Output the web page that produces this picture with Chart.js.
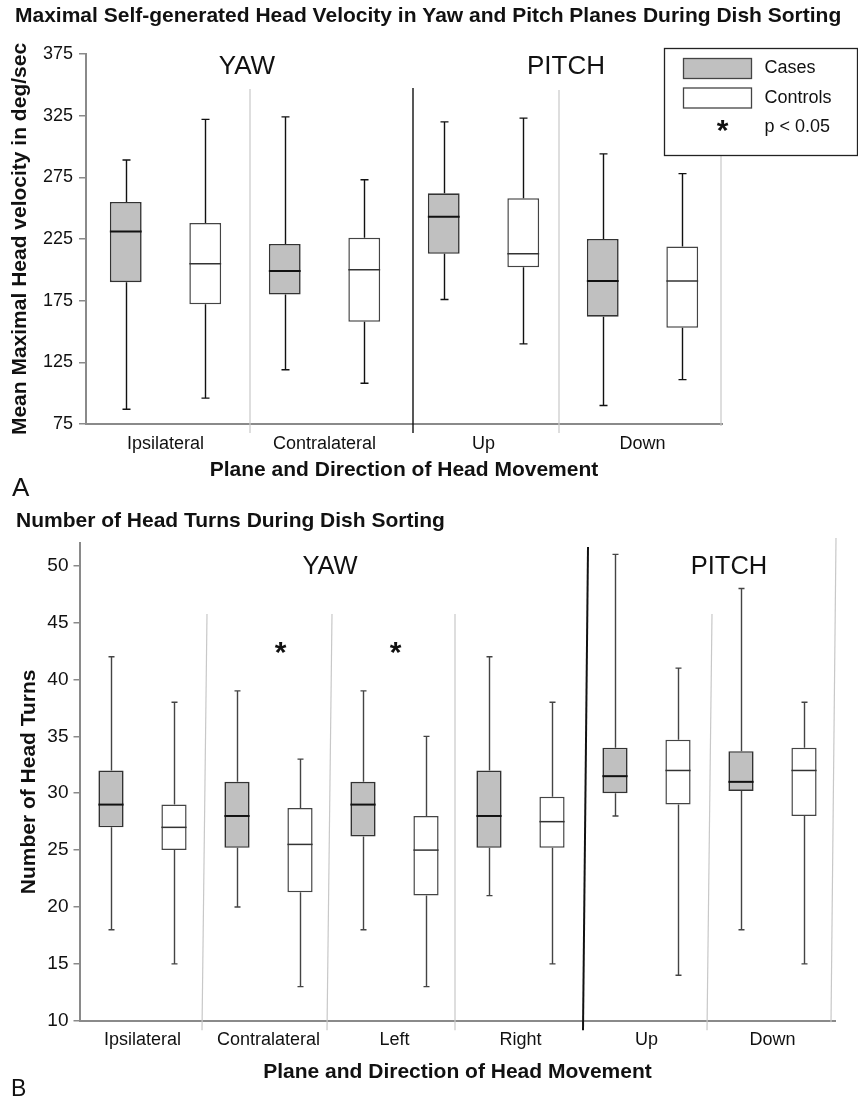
<!DOCTYPE html>
<html>
<head>
<meta charset="utf-8">
<script src="https://cdn.jsdelivr.net/npm/chart.js@4.4.1/dist/chart.umd.min.js"></script>
<style>
  body { margin: 0; background: #fff; }
  #wrap { position: relative; width: 858px; height: 1101px; }
  canvas { position: absolute; left: 0; }
</style>
</head>
<body>
<div id="wrap">
  <canvas id="chartA" width="858" height="500" style="top:0"></canvas>
  <canvas id="chartB" width="858" height="601" style="top:500px"></canvas>
</div>
<script>
// ---- panel A: max head velocity (deg/sec) ----
var aCategories = ['Ipsilateral', 'Contralateral', 'Up', 'Down'];
var aCasesMin = [87, 119, 176, 90];
var aCasesQ1  = [190, 180, 213, 162];
var aCasesMed = [231, 199, 243, 191];
var aCasesQ3  = [255, 221, 262, 225];
var aCasesMax = [289, 324, 320, 294];
var aCtrlMin = [96, 108, 140, 111];
var aCtrlQ1  = [172, 158, 202, 153];
var aCtrlMed = [205, 200, 213, 191];
var aCtrlQ3  = [238, 226, 258, 219];
var aCtrlMax = [322, 273, 323, 278];
var aTicks = [75, 375, 50];   // min, max, step

// ---- panel B: number of head turns ----
var bCategories = ['Ipsilateral', 'Contralateral', 'Left', 'Right', 'Up', 'Down'];
var bCasesMin = [18, 20, 18, 21, 28, 18];
var bCasesQ1  = [27, 25.2, 26.2, 25.2, 30, 30.2];
var bCasesMed = [29, 28, 29, 28, 31.5, 31];
var bCasesQ3  = [32, 31, 31, 32, 34, 33.7];
var bCasesMax = [42, 39, 39, 42, 51, 48];
var bCtrlMin = [15, 13, 13, 15, 14, 15];
var bCtrlQ1  = [25, 21.3, 21, 25.2, 29, 28];
var bCtrlMed = [27, 25.5, 25, 27.5, 32, 32];
var bCtrlQ3  = [29, 28.7, 28, 29.7, 34.7, 34];
var bCtrlMax = [38, 33, 35, 38, 41, 38];
var bSignificant = [false, true, true, false, false, false];
var bStarLevel = 42.6;
var bTicks = [10, 52, 5];

var FONT = "'Liberation Sans', Arial, Helvetica, sans-serif";
Chart.defaults.font.family = FONT;
Chart.defaults.color = '#111';

function zip(a, b) {
  return a.map(function(v, i) { return [v, b[i]]; });
}

// whiskers, caps and median lines on top of the floating bars
var boxWhiskers = {
  id: 'boxWhiskers',
  afterDatasetsDraw: function(chart, args, opts) {
    var ctx = chart.ctx, y = chart.scales.y;
    chart.data.datasets.forEach(function(ds, di) {
      chart.getDatasetMeta(di).data.forEach(function(bar, i) {
        var x = Math.round(bar.x) + 0.5, half = bar.width / 2;
        var yMin = y.getPixelForValue(ds.mins[i]);
        var yMax = y.getPixelForValue(ds.maxs[i]);
        var yQ1 = y.getPixelForValue(ds.data[i][0]);
        var yQ3 = y.getPixelForValue(ds.data[i][1]);
        var yMed = y.getPixelForValue(ds.medians[i]);
        ctx.save();
        ctx.strokeStyle = opts.color;
        ctx.lineWidth = opts.width;
        ctx.beginPath();
        ctx.moveTo(x, yQ3); ctx.lineTo(x, yMax);
        ctx.moveTo(x - opts.cap, yMax); ctx.lineTo(x + opts.cap, yMax);
        ctx.moveTo(x, yQ1); ctx.lineTo(x, yMin);
        ctx.moveTo(x - opts.cap, yMin); ctx.lineTo(x + opts.cap, yMin);
        ctx.stroke();
        ctx.strokeStyle = ds.medianColor;
        ctx.lineWidth = ds.medianWidth;
        ctx.beginPath();
        ctx.moveTo(bar.x - half, yMed); ctx.lineTo(bar.x + half, yMed);
        ctx.stroke();
        ctx.restore();
      });
    });
  }
};

// separators, YAW / PITCH labels, asterisks, panel letter, legend box
var panelDecor = {
  id: 'panelDecor',
  afterDraw: function(chart, args, o) {
    var ctx = chart.ctx, xs = chart.scales.x, ys = chart.scales.y, area = chart.chartArea;
    var n = xs.getLabels().length;
    function boundary(i) {
      if (i >= n - 1) return area.right;
      return (xs.getPixelForValue(i) + xs.getPixelForValue(i + 1)) / 2;
    }
    ctx.save();
    (o.separators || []).forEach(function(s) {
      var bx = boundary(s.after);
      ctx.strokeStyle = s.color;
      ctx.lineWidth = s.width;
      ctx.beginPath();
      ctx.moveTo(bx + s.dxTop, area.top + s.top);
      ctx.lineTo(bx + s.dxBottom, area.bottom + s.bottom);
      ctx.stroke();
    });

    ctx.fillStyle = '#111';
    ctx.textAlign = 'center';
    ctx.textBaseline = 'middle';
    (o.groups || []).forEach(function(g) {
      var cx = (xs.getPixelForValue(g.from) + xs.getPixelForValue(g.to)) / 2 + g.dx;
      ctx.font = o.groupFont + ' ' + FONT;
      ctx.fillText(g.text, cx, area.top + g.dy);
    });

    ctx.textBaseline = 'alphabetic';
    ctx.font = o.starFont + ' ' + FONT;
    (o.stars || []).forEach(function(st, i) {
      if (!st) return;
      var sx = xs.getPixelForValue(i) + o.starDx[i];
      ctx.fillText('*', sx, ys.getPixelForValue(o.starLevel) + o.starDrop);
    });

    ctx.textAlign = 'left';
    ctx.textBaseline = 'middle';
    ctx.font = o.letterFont + ' ' + FONT;
    ctx.fillText(o.letter, o.letterX, o.letterY);

    if (o.legend) {
      var L = o.legend;
      ctx.fillStyle = '#fff';
      ctx.fillRect(L.x, L.y, L.w, L.h);
      ctx.strokeStyle = '#222';
      ctx.lineWidth = 1.3;
      ctx.strokeRect(L.x, L.y, L.w, L.h);
      ctx.font = '18px ' + FONT;
      L.items.forEach(function(it, k) {
        var cy = L.y + 20 + k * 29.5;
        if (it.fill) {
          ctx.fillStyle = it.fill;
          ctx.fillRect(L.x + 19, cy - 10, 68, 20);
          ctx.strokeStyle = '#444';
          ctx.lineWidth = 1.3;
          ctx.strokeRect(L.x + 19, cy - 10, 68, 20);
        } else {
          ctx.fillStyle = '#111';
          ctx.textAlign = 'center';
          ctx.textBaseline = 'alphabetic';
          ctx.font = o.starFont + ' ' + FONT;
          ctx.fillText('*', L.x + 58, cy + o.starDrop);
          ctx.font = '18px ' + FONT;
        }
        ctx.fillStyle = '#111';
        ctx.textAlign = 'left';
        ctx.textBaseline = 'middle';
        ctx.fillText(it.label, L.x + 100, cy);
      });
    }
    ctx.restore();
  }
};

function buildPanel(el, p) {
  return new Chart(document.getElementById(el), {
    type: 'bar',
    data: {
      labels: p.categories,
      datasets: [{
        label: 'Cases',
        data: zip(p.casesQ1, p.casesQ3),
        mins: p.casesMin, maxs: p.casesMax, medians: p.casesMed,
        medianColor: '#111', medianWidth: 2,
        backgroundColor: '#c0c0c0',
        borderColor: '#333',
        borderWidth: 1.6,
        borderSkipped: false,
        barPercentage: 0.4,
        categoryPercentage: 1.0
      }, {
        label: 'Controls',
        data: zip(p.ctrlQ1, p.ctrlQ3),
        mins: p.ctrlMin, maxs: p.ctrlMax, medians: p.ctrlMed,
        medianColor: '#333', medianWidth: 1.5,
        backgroundColor: '#ffffff',
        borderColor: '#444',
        borderWidth: 1.5,
        borderSkipped: false,
        barPercentage: 0.4,
        categoryPercentage: 1.0
      }]
    },
    options: {
      responsive: false,
      animation: false,
      layout: { padding: { left: p.padLeft, top: 0, right: 0, bottom: 0 } },
      plugins: {
        legend: { display: false },
        tooltip: { enabled: false },
        title: {
          display: true,
          text: p.title,
          align: 'start',
          color: '#111',
          font: { size: 21, weight: 'bold' },
          padding: p.titlePad
        },
        boxWhiskers: p.whisker,
        panelDecor: p.decor
      },
      scales: {
        x: {
          grid: { display: false },
          border: { display: true, color: '#8a8a8a', width: 2 },
          ticks: { color: '#111', font: { size: 18 }, padding: p.xTickPad, maxRotation: 0, autoSkip: false },
          title: {
            display: true,
            text: 'Plane and Direction of Head Movement',
            color: '#111',
            font: { size: 21, weight: 'bold' },
            padding: { top: 0, bottom: p.xTitlePad }
          },
          afterFit: function(s) { s.height = p.xHeight; }
        },
        y: {
          min: p.ticks[0], max: p.ticks[1],
          grid: { display: true, drawOnChartArea: false, drawTicks: true, tickLength: p.tickLen, color: '#8a8a8a', lineWidth: 1.5 },
          border: { display: true, color: '#8a8a8a', width: 2 },
          ticks: { stepSize: p.ticks[2], color: '#111', font: { size: p.yTickSize }, padding: p.yTickPad },
          title: {
            display: true,
            text: p.yTitle,
            color: '#111',
            font: { size: p.yTitleSize, weight: 'bold', lineHeight: 0.5 },
            padding: { top: p.yTitleShift, bottom: 0 }
          },
          afterBuildTicks: function(s) {
            s.ticks = s.ticks.filter(function(t) { return t.value % p.ticks[2] === (p.ticks[0] % p.ticks[2]); });
          },
          afterFit: function(s) { s.width = p.yWidth; }
        },
        spare: {
          position: 'right',
          display: true,
          grid: { display: false },
          border: { display: false },
          ticks: { display: false },
          afterFit: function(s) { s.width = p.rightGap; }
        }
      }
    },
    plugins: [boxWhiskers, panelDecor]
  });
}

var GREY = '#c8c8c8';

buildPanel('chartA', {
  categories: aCategories,
  casesMin: aCasesMin, casesQ1: aCasesQ1, casesMed: aCasesMed, casesQ3: aCasesQ3, casesMax: aCasesMax,
  ctrlMin: aCtrlMin, ctrlQ1: aCtrlQ1, ctrlMed: aCtrlMed, ctrlQ3: aCtrlQ3, ctrlMax: aCtrlMax,
  ticks: aTicks,
  title: 'Maximal Self-generated Head Velocity in Yaw and Pitch Planes During Dish Sorting',
  titlePad: { top: 4, bottom: 24.8 },
  padLeft: 15,
  yWidth: 71,
  rightGap: 136,
  xHeight: 76,
  xTickPad: 1,
  xTitlePad: 17,
  tickLen: 7,
  yTickSize: 18,
  yTickPad: 6,
  yTitle: 'Mean Maximal Head velocity in deg/sec',
  yTitleSize: 21,
  yTitleShift: 0,
  whisker: { color: '#111', width: 1.4, cap: 4 },
  decor: {
    separators: [
      { after: 0, color: GREY, width: 1.2, top: 35, bottom: 9, dxTop: 5, dxBottom: 5 },
      { after: 1, color: '#111', width: 1.4, top: 34, bottom: 9, dxTop: 9, dxBottom: 9 },
      { after: 2, color: GREY, width: 1.2, top: 36, bottom: 9, dxTop: -4, dxBottom: -4 },
      { after: 3, color: GREY, width: 1.2, top: 40, bottom: 2, dxTop: -1, dxBottom: -1 }
    ],
    groupFont: '26px',
    groups: [
      { text: 'YAW', from: 0, to: 1, dx: 2, dy: 13 },
      { text: 'PITCH', from: 2, to: 3, dx: 3, dy: 13 }
    ],
    starFont: 'bold 30px',
    starDrop: 12,
    stars: [],
    starDx: [],
    letter: 'A', letterFont: '26px', letterX: 12, letterY: 489,
    legend: {
      x: 664.5, y: 48.5, w: 193, h: 107,
      items: [
        { label: 'Cases', fill: '#c0c0c0' },
        { label: 'Controls', fill: '#ffffff' },
        { label: 'p < 0.05', fill: null }
      ]
    }
  }
});

buildPanel('chartB', {
  categories: bCategories,
  casesMin: bCasesMin, casesQ1: bCasesQ1, casesMed: bCasesMed, casesQ3: bCasesQ3, casesMax: bCasesMax,
  ctrlMin: bCtrlMin, ctrlQ1: bCtrlQ1, ctrlMed: bCtrlMed, ctrlQ3: bCtrlQ3, ctrlMax: bCtrlMax,
  ticks: bTicks,
  title: 'Number of Head Turns During Dish Sorting',
  titlePad: { top: 9, bottom: 8.8 },
  padLeft: 16,
  yWidth: 63.5,
  rightGap: 22.5,
  xHeight: 80.3,
  xTickPad: 0.5,
  xTitlePad: 16.4,
  tickLen: 6,
  yTickSize: 19,
  yTickPad: 5,
  yTitle: 'Number of Head Turns',
  yTitleSize: 21,
  yTitleShift: 8,
  whisker: { color: '#444', width: 1.4, cap: 3 },
  decor: {
    separators: [
      { after: 0, color: GREY, width: 1.2, top: 71, bottom: 9.5, dxTop: 1.5, dxBottom: -3.5 },
      { after: 1, color: GREY, width: 1.2, top: 71, bottom: 9.5, dxTop: 0.5, dxBottom: -4.5 },
      { after: 2, color: GREY, width: 1.2, top: 71, bottom: 9.5, dxTop: -2.5, dxBottom: -2.5 },
      { after: 3, color: '#111', width: 2, top: 4, bottom: 9.5, dxTop: 4.5, dxBottom: -0.5 },
      { after: 4, color: GREY, width: 1.2, top: 71, bottom: 9.5, dxTop: 2.5, dxBottom: -2.5 },
      { after: 5, color: GREY, width: 1.2, top: -5, bottom: 1.5, dxTop: 0.5, dxBottom: -4.5 }
    ],
    groupFont: '25.5px',
    groups: [
      { text: 'YAW', from: 0, to: 3, dx: -1.5, dy: 23.7 },
      { text: 'PITCH', from: 4, to: 5, dx: 19.5, dy: 23.7 }
    ],
    starFont: 'bold 30px',
    starDrop: 12,
    stars: bSignificant,
    starLevel: bStarLevel,
    starDx: [0, 12, 1, 0, 0, 0],
    letter: 'B', letterFont: '23px', letterX: 11, letterY: 590,
    legend: null
  }
});
</script>
</body>
</html>
